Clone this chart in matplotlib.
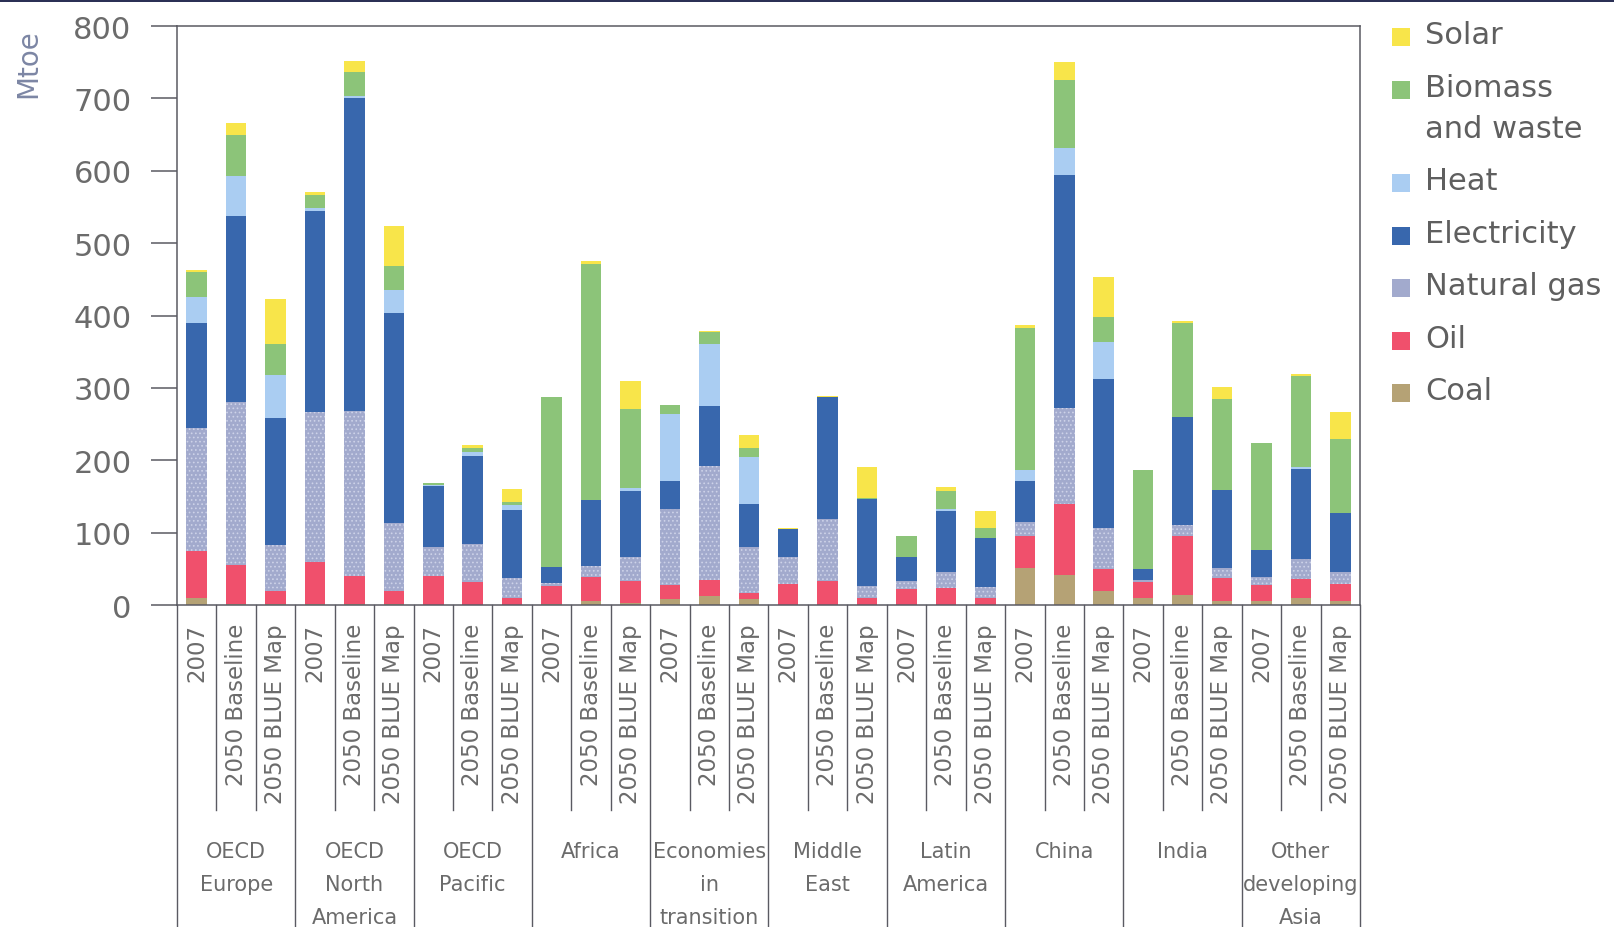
import numpy as np
import matplotlib
matplotlib.use("Agg")
import matplotlib.pyplot as plt
import matplotlib.transforms as mtransforms
from matplotlib.patches import Rectangle

# regions and scenarios
regions = ["OECD\nEurope", "OECD\nNorth\nAmerica", "OECD\nPacific", "Africa",
           "Economies\nin\ntransition", "Middle\nEast", "Latin\nAmerica",
           "China", "India", "Other\ndeveloping\nAsia"]
scenarios = ["2007", "2050 Baseline", "2050 BLUE Map"]

# Mtoe per bar, 3 bars per region (2007, Baseline, BLUE Map)
coal = [10, 2, 2,   2, 2, 2,   0, 0, 0,   2, 5, 3,   8, 12, 8,
        0, 0, 0,    0, 0, 0,   51, 42, 19,   9, 14, 5,   6, 9, 6]
oil = [65, 53, 18,  58, 38, 18,  40, 32, 9,  24, 33, 30,  19, 23, 8,
       29, 33, 10,  22, 23, 10,  45, 98, 31,  23, 82, 32,  21, 27, 23]
gas = [169, 225, 63,  207, 228, 93,  40, 52, 28,  5, 16, 33,  105, 157, 64,
       38, 86, 16,  11, 22, 15,  18, 132, 57,  2, 15, 14,  11, 27, 16]
electricity = [145, 257, 175,  278, 432, 291,  85, 122, 94,  22, 91, 92,  40, 83, 60,
               38, 168, 120,  33, 85, 67,  58, 322, 205,  16, 149, 108,  38, 125, 82]
heat = [36, 56, 60,  3, 3, 31,  1, 5, 7,  0, 0, 3,  92, 85, 64,
        0, 0, 0,  0, 3, 1,  15, 38, 52,  0, 0, 0,  0, 2, 0]
biomass = [35, 56, 42,  19, 33, 33,  3, 6, 5,  234, 326, 110,  12, 17, 13,
           0, 0, 2,  29, 25, 13,  196, 93, 34,  136, 129, 125,  148, 127, 102]
solar = [3, 17, 63,  3, 16, 55,  0, 4, 17,  0, 4, 38,  0, 1, 18,
         1, 2, 42,  0, 5, 24,  4, 25, 55,  0, 3, 17,  0, 2, 37]

series = [("Coal", coal, "#b5a275"),
          ("Oil", oil, "#f0506c"),
          ("Natural gas", gas, "#a2aacd"),
          ("Electricity", electricity, "#3867ad"),
          ("Heat", heat, "#aacdf2"),
          ("Biomass\nand waste", biomass, "#8cc479"),
          ("Solar", solar, "#f8e54a")]

W, H = 1615, 928
fig = plt.figure(figsize=(W / 100, H / 100), dpi=100)
# axes frame in pixels: left 177, right 1360, top 27, bottom 606
ax = fig.add_axes([177 / W, 1 - 606 / H, (1360 - 177) / W, (606 - 27) / H])

plt.rcParams['hatch.linewidth'] = 0.7
x = np.arange(len(regions) * len(scenarios))
bottom = np.zeros(len(x))
for name, vals, col in series:
    vals = np.array(vals, dtype=float)
    if name == "Natural gas":
        ax.bar(x, vals, 0.52, bottom=bottom, color=col, edgecolor="#cdd2e8",
               linewidth=0, hatch="....", zorder=2)
    else:
        ax.bar(x, vals, 0.52, bottom=bottom, color=col, linewidth=0, zorder=2)
    bottom += vals

axis_col = "#5a5a62"
text_col = "#6b6b6b"
ax.set_xlim(-0.5, len(x) - 0.5)
ax.set_ylim(0, 800)
ax.set_yticks(range(0, 801, 100))
ax.tick_params(axis="y", direction="out", length=18.7, width=1.1, pad=14,
               labelsize=22, colors=axis_col, labelcolor=text_col)
ax.set_xticks(x)
ax.set_xticklabels(scenarios * len(regions), rotation=90, fontsize=16.5,
                   color=text_col, va="top", ha="center")
ax.tick_params(axis="x", length=0, pad=13)
for s in ax.spines.values():
    s.set_color(axis_col)
    s.set_linewidth(1.1)

# separators under the axis
trans = mtransforms.blended_transform_factory(ax.transData, ax.transAxes)
ax_h = 606 - 27
for k in range(len(x) + 1):
    if k % 3 == 0:
        y_end = -(H - 606 + 5) / ax_h
    else:
        y_end = -(811 - 606) / ax_h
    ax.plot([k - 0.5, k - 0.5], [0, y_end], color=axis_col, lw=1.0,
            transform=trans, clip_on=False)

# region names
for g, reg in enumerate(regions):
    ax.text(3 * g + 1, -(842 - 606) / ax_h, reg, transform=trans, ha="center",
            va="top", fontsize=15, color=text_col, linespacing=1.8)

# y label
fig.text(28 / W, 1 - 64 / H, "Mtoe", rotation=90, ha="center", va="center",
         fontsize=20, color="#7c86a4")

# legend, top to bottom
ly = 36
for name, vals, col in series[::-1]:
    fig.add_artist(Rectangle((1392 / W, 1 - (ly + 11) / H), 18 / W, 18 / H,
                             transform=fig.transFigure, color=col, lw=0))
    for i, line in enumerate(name.split("\n")):
        fig.text(1425 / W, 1 - (ly + 41 * i) / H, line, ha="left",
                 va="center", fontsize=22, color="#5f5f5f")
    ly += 52.5 + 41 * name.count("\n")

# dark scan edge at the top
fig.add_artist(Rectangle((0, 1 - 3 / H), 1, 3 / H, transform=fig.transFigure,
                         color="#2b3055", lw=0))

fig.savefig("out.png", dpi=100)
